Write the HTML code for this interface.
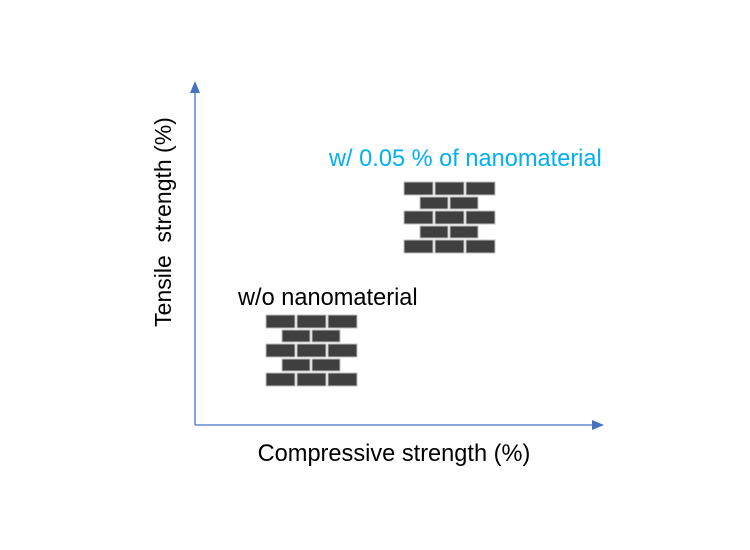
<!DOCTYPE html>
<html><head><style>
body{margin:0;background:#fff;}
svg{display:block;font-family:"Liberation Sans",sans-serif;}
</style></head><body>
<svg width="750" height="550">
<defs>
<g id="wall">
<rect x="0" y="0" width="29" height="13" /><rect x="31" y="0" width="29" height="13"/><rect x="62" y="0" width="29" height="13"/>
<rect x="16" y="15" width="28" height="12"/><rect x="46" y="15" width="28" height="12"/>
<rect x="0" y="29" width="29" height="13"/><rect x="31" y="29" width="29" height="13"/><rect x="62" y="29" width="29" height="13"/>
<rect x="16" y="44" width="28" height="12"/><rect x="46" y="44" width="28" height="12"/>
<rect x="0" y="58" width="29" height="13"/><rect x="31" y="58" width="29" height="13"/><rect x="62" y="58" width="29" height="13"/>
</g>
</defs>
<g>
<line x1="195" y1="425" x2="195" y2="92" stroke="#4472c4" stroke-width="1.3"/>
<polygon points="195,81 190,93 200,93" fill="#4472c4"/>
</g>
<g>
<line x1="195" y1="425" x2="594" y2="425" stroke="#4472c4" stroke-width="1.3"/>
<polygon points="604,425 592,420 592,430" fill="#4472c4"/>
</g>
<text x="394" y="461" font-size="23.6" text-anchor="middle" fill="#000">Compressive strength (%)</text>
<text transform="translate(171,222) rotate(-90)" font-size="23" text-anchor="middle" fill="#000" xml:space="preserve" style="white-space:pre">Tensile  strength (%)</text>
<text x="238" y="305" font-size="23.6" fill="#000">w/o nanomaterial</text>
<use href="#wall" x="266" y="315" fill="#3f3f3f" stroke="#bfbfbf" stroke-width="1"/>
<text x="329" y="166" font-size="23.6" fill="#00b0f0">w/ 0.05 % of nanomaterial</text>
<use href="#wall" x="404" y="182" fill="#3f3f3f" stroke="#bfbfbf" stroke-width="1"/>
</svg>
</body></html>
